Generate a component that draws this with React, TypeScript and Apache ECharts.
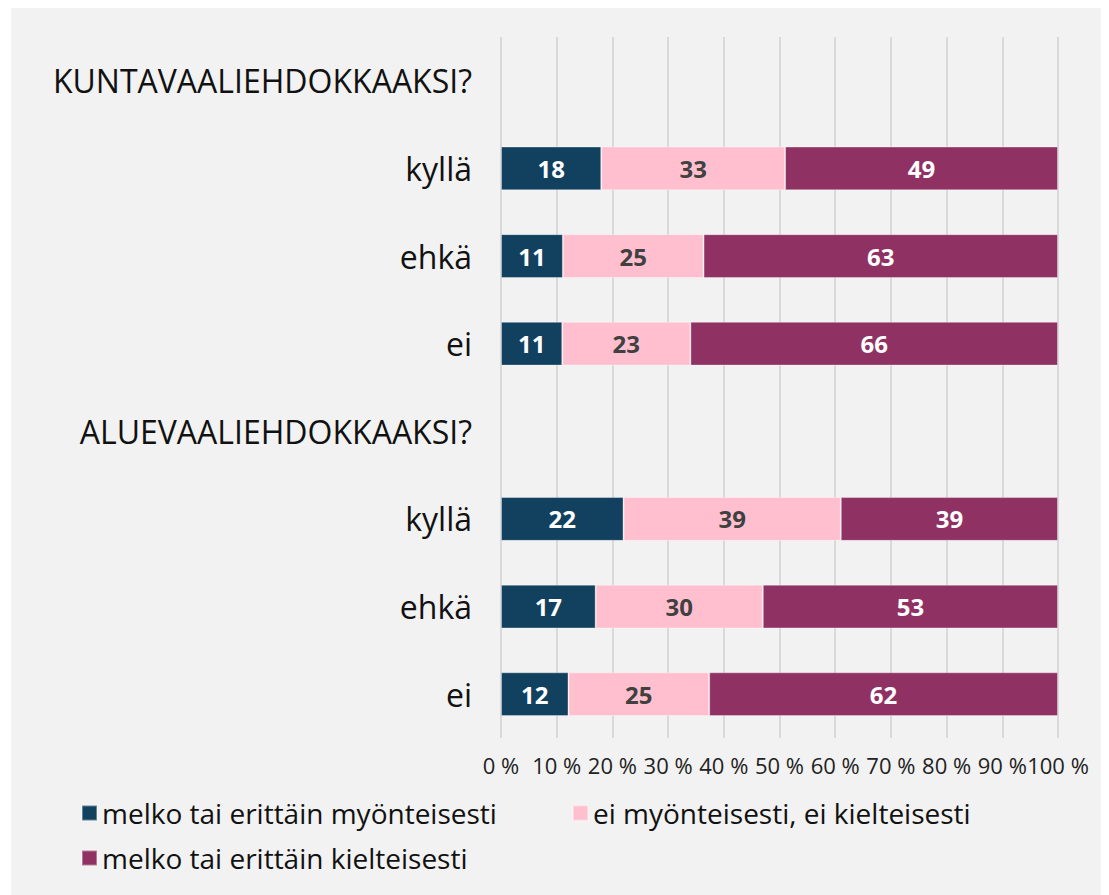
import React, { useEffect, useRef } from "react";
import * as echarts from "echarts";

const categories = [
  "KUNTAVAALIEHDOKKAAKSI?",
  "kyllä",
  "ehkä",
  "ei",
  "ALUEVAALIEHDOKKAAKSI?",
  "kyllä",
  "ehkä",
  "ei",
];
const seriesNames = [
  "melko tai erittäin myönteisesti",
  "ei myönteisesti, ei kielteisesti",
  "melko tai erittäin kielteisesti",
];
const positive: (number | null)[] = [null, 18, 11, 11, null, 22, 17, 12];
const neutral: (number | null)[] = [null, 33, 25, 23, null, 39, 30, 25];
const negative: (number | null)[] = [null, 49, 63, 66, null, 39, 53, 62];
const tickLabels = ["0 %", "10 %", "20 %", "30 %", "40 %", "50 %", "60 %", "70 %", "80 %", "90 %", "100 %"];
const colors = ["#12405f", "#ffbfcf", "#8f3263"];
const labelColors = ["#ffffff", "#404040", "#ffffff"];

const FONT = "Open Sans";

export default function App() {
  const ref = useRef<HTMLDivElement>(null);
  useEffect(() => {
    if (!ref.current) return;
    const chart = echarts.init(ref.current, null, { renderer: "svg" });
    const all = [positive, neutral, negative];
    const sums = categories.map((_, i) =>
      all.reduce((s, arr) => s + (arr[i] ?? 0), 0)
    );
    const series = all.map((arr, si) => ({
      name: seriesNames[si],
      type: "bar",
      stack: "total",
      barWidth: "50%",
      itemStyle: { color: colors[si], borderColor: "rgba(255,255,255,0.35)", borderWidth: 1 },
      label: {
        show: true,
        position: "inside",
        color: labelColors[si],
        fontFamily: FONT,
        fontWeight: "bold",
        fontSize: 24,
        formatter: (p: any) => (p.data && p.data.raw != null ? String(p.data.raw) : ""),
      },
      data: arr.map((v, i) =>
        v == null ? { value: "-" } : { value: (v / sums[i]) * 100, raw: v }
      ),
    }));
    const legends = [
      { left: 70, top: 789 },
      { left: 561, top: 789 },
      { left: 70, top: 834 },
    ].map((pos, i) => ({
      ...pos,
      data: [seriesNames[i]],
      icon: "rect",
      padding: 0,
      itemWidth: 15,
      itemHeight: 15,
      itemGap: 5,
      selectedMode: false,
      textStyle: { fontFamily: FONT, fontSize: 28, color: "#111", lineHeight: 32 },
    }));
    chart.setOption({
      animation: false,
      backgroundColor: "#f2f2f2",
      textStyle: { fontFamily: FONT },
      grid: { left: 490, right: 51, top: 29, bottom: 157, containLabel: false },
      xAxis: {
        type: "value",
        min: 0,
        max: 100,
        interval: 10,
        axisLine: { show: false },
        axisTick: { show: false },
        splitLine: { show: true, lineStyle: { color: "#d9d9d9", width: 2 } },
        axisLabel: {
          margin: 16,
          fontSize: 22,
          color: "#222",
          fontFamily: FONT,
          formatter: (v: number) => tickLabels[Math.round(v / 10)],
        },
      },
      yAxis: {
        type: "category",
        inverse: true,
        data: categories,
        axisLine: { show: false },
        axisTick: { show: false },
        axisLabel: { margin: 29, fontSize: 32, color: "#111", fontFamily: FONT },
      },
      legend: legends,
      series,
    });
    return () => chart.dispose();
  }, []);
  return (
    <div style={{ marginLeft: 3 }}>
      <div ref={ref} style={{ width: 1098, height: 887 }} />
    </div>
  );
}
